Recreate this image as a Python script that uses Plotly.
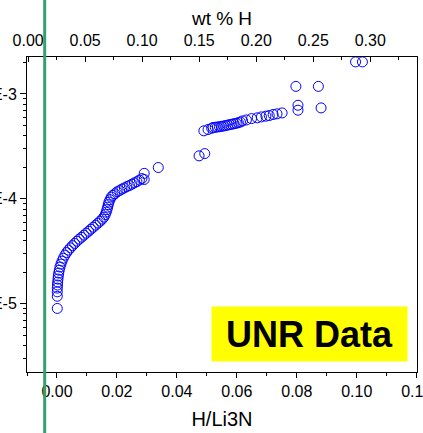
import plotly.graph_objects as go

# H/Li3N (x) and value (log y)
h_li3n = [
    0.0001, 0.0001, 0.0001, 0.0001, 0.00017, 0.00023, 0.00033, 0.00043, 0.00057, 0.00077,
    0.0010, 0.00133, 0.00167, 0.0021, 0.00267, 0.00323, 0.00383, 0.0045, 0.00517, 0.0059,
    0.00667, 0.00743, 0.00823, 0.009, 0.00977, 0.01057, 0.01133, 0.0121, 0.0129, 0.01367,
    0.01443, 0.0151, 0.01567, 0.0161, 0.01643, 0.01667, 0.0169, 0.0171, 0.01733, 0.01767,
    0.0181, 0.01867, 0.01933, 0.0201, 0.0209, 0.02167, 0.0225, 0.02333, 0.02417, 0.025,
    0.02583, 0.02667, 0.0275, 0.02833, 0.0291, 0.0291, 0.0338,
    0.0474, 0.0493, 0.0490, 0.0504, 0.0516,
    0.0521, 0.0528, 0.0535, 0.0542, 0.0549, 0.0556, 0.0563, 0.0570, 0.0577, 0.0584,
    0.0591, 0.0598, 0.0605, 0.0612,
    0.0619, 0.0632, 0.0649, 0.0668, 0.0682, 0.0697, 0.0708, 0.0721, 0.0734, 0.0751,
    0.0797, 0.0872, 0.0804, 0.0804, 0.0881, 0.0996, 0.1019,
]
values = [
    9.03e-6, 1.18e-5, 1.30e-5, 1.41e-5, 1.51e-5, 1.61e-5, 1.72e-5, 1.84e-5, 1.96e-5, 2.09e-5,
    2.24e-5, 2.39e-5, 2.55e-5, 2.72e-5, 2.91e-5, 3.08e-5, 3.25e-5, 3.41e-5, 3.58e-5, 3.76e-5,
    3.95e-5, 4.13e-5, 4.31e-5, 4.51e-5, 4.71e-5, 4.92e-5, 5.14e-5, 5.37e-5, 5.62e-5, 5.87e-5,
    6.13e-5, 6.41e-5, 6.70e-5, 7.08e-5, 7.47e-5, 7.89e-5, 8.33e-5, 8.81e-5, 9.31e-5, 9.82e-5,
    1.04e-4, 1.08e-4, 1.12e-4, 1.17e-4, 1.20e-4, 1.24e-4, 1.27e-4, 1.31e-4, 1.34e-4, 1.38e-4,
    1.42e-4, 1.46e-4, 1.51e-4, 1.56e-4, 1.53e-4, 1.75e-4, 1.99e-4,
    2.57e-4, 2.70e-4, 4.45e-4, 4.58e-4, 4.71e-4,
    4.79e-4, 4.81e-4, 4.84e-4, 4.87e-4, 4.91e-4, 4.95e-4, 5.00e-4, 5.05e-4, 5.10e-4, 5.15e-4,
    5.20e-4, 5.25e-4, 5.32e-4, 5.40e-4,
    5.53e-4, 5.65e-4, 5.82e-4, 5.92e-4, 6.04e-4, 6.14e-4, 6.22e-4, 6.37e-4, 6.46e-4, 6.59e-4,
    1.18e-3, 1.18e-3, 7.80e-4, 7.00e-4, 7.36e-4, 2.02e-3, 2.02e-3,
]

x_ticks = [0.00, 0.02, 0.04, 0.06, 0.08, 0.10, 0.12]
x_tick_text = ["0.00", "0.02", "0.04", "0.06", "0.08", "0.10", "0.12"]
wt_ticks = [0.00, 0.05, 0.10, 0.15, 0.20, 0.25, 0.30]
wt_tick_text = ["0.00", "0.05", "0.10", "0.15", "0.20", "0.25", "0.30"]
y_ticks = [1e-5, 1e-4, 1e-3]
y_tick_text = ["1E-5", "1E-4", "1E-3"]
y_minor = [m * 10.0 ** e for e in (-6, -5, -4, -3) for m in range(2, 10)]

XMIN, XMAX = -0.01, 0.1201
WTMIN, WTMAX = -0.001, 0.341
GREEN_X = -0.0041  # reference line position in H/Li3N units

FONT = "Liberation Sans, Arial, sans-serif"

fig = go.Figure()
fig.add_trace(go.Scatter(
    x=h_li3n, y=values, mode="markers",
    marker=dict(symbol="circle-open", size=10, color="#0000ff", line=dict(width=1, color="#0000ff")),
    showlegend=False, hoverinfo="skip",
))
fig.add_trace(go.Scatter(x=[], y=[], xaxis="x2", showlegend=False))

green_paper = (GREEN_X - XMIN) / (XMAX - XMIN)
fig.add_shape(type="line", xref="paper", yref="paper", x0=green_paper, x1=green_paper,
              y0=-0.5, y1=1.5, line=dict(color="#33a06e", width=3), layer="above")

fig.add_annotation(xref="paper", yref="paper", x=0.7256, y=0.122, xanchor="center", yanchor="middle",
                   text="<b>UNR Data</b>", showarrow=False, bgcolor="#ffff00",
                   font=dict(family=FONT, size=36, color="black"),
                   width=195, height=54, borderpad=0, align="center", valign="middle")

fig.update_layout(
    width=423, height=433,
    margin=dict(l=27, r=6, t=57, b=61, autoexpand=False),
    paper_bgcolor="white", plot_bgcolor="white",
    font=dict(family=FONT, size=16, color="black"),
    xaxis=dict(
        range=[XMIN, XMAX], tickvals=x_ticks, ticktext=x_tick_text,
        ticks="outside", ticklen=5, tickwidth=1, tickcolor="black",
        showline=True, linecolor="black", linewidth=1, mirror=False,
        showgrid=False, zeroline=False, automargin=False, ticklabeloverflow="allow",
        minor=dict(dtick=0.01, tick0=0, ticks="outside", ticklen=3, tickcolor="black", showgrid=False),
        title=dict(text="H/Li3N", font=dict(size=20), standoff=12),
    ),
    xaxis2=dict(
        overlaying="x", side="top", range=[WTMIN, WTMAX],
        tickvals=wt_ticks, ticktext=wt_tick_text,
        ticks="inside", ticklen=5, tickwidth=1, tickcolor="black",
        showline=True, linecolor="black", linewidth=1, ticklabelstandoff=4,
        showgrid=False, zeroline=False, automargin=False, ticklabeloverflow="allow",
        minor=dict(dtick=0.025, tick0=0, ticks="inside", ticklen=3, tickcolor="black", showgrid=False),
        title=dict(text="wt % H", font=dict(size=19), standoff=0),
    ),
    yaxis=dict(
        type="log", range=[-5.65, -2.648], tickvals=y_ticks, ticktext=y_tick_text,
        ticks="outside", ticklen=6, tickwidth=1, tickcolor="black",
        showline=True, linecolor="black", linewidth=1, mirror=True,
        showgrid=False, zeroline=False, automargin=False, ticklabeloverflow="allow",
        minor=dict(tickvals=y_minor, ticks="outside", ticklen=3, tickcolor="black", showgrid=False),
    ),
)

fig.write_html("out.html")
